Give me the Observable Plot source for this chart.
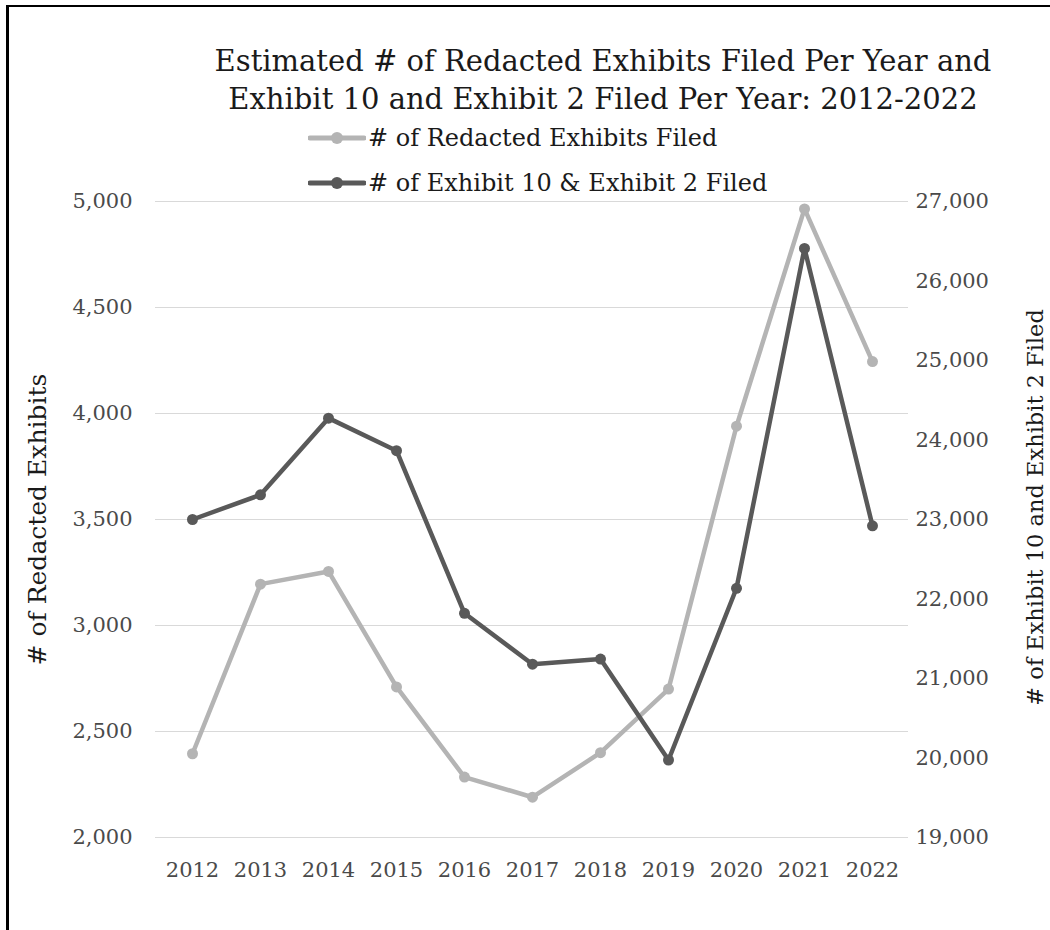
<!DOCTYPE html>
<html>
<head>
<meta charset="utf-8">
<script src="https://cdn.jsdelivr.net/npm/d3@7"></script>
<script src="https://cdn.jsdelivr.net/npm/@observablehq/plot@0.6"></script>
<style>
  body { margin: 0; background: #fff; }
  #page { position: relative; width: 1050px; height: 930px; overflow: hidden; font-family: "DejaVu Serif", serif; }
  #frame { position: absolute; left: 6px; top: 5px; width: 1200px; height: 1200px; border-left: 3px solid #000; border-top: 2px solid #000; }
  #chart { position: absolute; left: 0; top: 0; }
  #title { position: absolute; left: 155px; width: 896px; top: 42px; text-align: center; font-size: 29px; line-height: 38px; color: #1a1a1a; }
  #legend { position: absolute; left: 308px; top: 115px; font-size: 24px; color: #1a1a1a; }
  .item { display: flex; align-items: center; height: 45px; }
  .item svg { margin-right: 2px; }
</style>
</head>
<body>
<div id="page">
  <div id="frame"></div>
  <div id="chart"></div>
  <div id="title">Estimated # of Redacted Exhibits Filed Per Year and<br>Exhibit 10 and Exhibit 2 Filed Per Year: 2012-2022</div>
  <div id="legend"></div>
</div>
<script>
// Yearly counts: redacted exhibits (left axis) and Exhibit 10 & 2 filings (right axis)
const years = ["2012", "2013", "2014", "2015", "2016", "2017", "2018", "2019", "2020", "2021", "2022"];
const redacted = [2395, 3195, 3255, 2710, 2285, 2190, 2400, 2700, 3940, 4965, 4245];
const exhibits = [23000, 23310, 24275, 23865, 21820, 21180, 21245, 19975, 22135, 26410, 22920];

const leftTicks = [2000, 2500, 3000, 3500, 4000, 4500, 5000];
const rightTicks = [19000, 20000, 21000, 22000, 23000, 24000, 25000, 26000, 27000];

const seriesNames = ["# of Redacted Exhibits Filed", "# of Exhibit 10 & Exhibit 2 Filed"];
const seriesColors = ["#b4b4b4", "#595959"];

// The right axis is mapped onto the left axis's value range
const toLeft = d3.scaleLinear([19000, 27000], [2000, 5000]);

const rows = years.map((year, i) => ({ year, redacted: redacted[i], exhibits: exhibits[i] }));
const fmt = d3.format(",");

const chart = Plot.plot({
  width: 1050,
  height: 930,
  marginLeft: 155,
  marginRight: 142,
  marginTop: 201,
  marginBottom: 93,
  style: { fontFamily: "DejaVu Serif", fontSize: "21px", color: "#4a4a4a", background: "transparent" },
  x: { type: "point", domain: years, padding: 0.5, label: null },
  y: { domain: [2000, 5000], label: null },
  marks: [
    Plot.gridY(leftTicks, { stroke: "#d9d9d9", strokeOpacity: 1 }),
    Plot.axisY(leftTicks, { anchor: "left", tickSize: 0, tickPadding: 23, tickFormat: fmt, label: null }),
    Plot.axisY(rightTicks, { anchor: "right", y: toLeft, tickSize: 0, tickPadding: 7, tickFormat: fmt, label: null }),
    Plot.axisX({ tickSize: 0, tickPadding: 25, label: null }),
    Plot.line(rows, { x: "year", y: "redacted", stroke: seriesColors[0], strokeWidth: 4.5 }),
    Plot.dot(rows, { x: "year", y: "redacted", r: 5.5, fill: seriesColors[0] }),
    Plot.line(rows, { x: "year", y: d => toLeft(d.exhibits), stroke: seriesColors[1], strokeWidth: 4.5 }),
    Plot.dot(rows, { x: "year", y: d => toLeft(d.exhibits), r: 5.5, fill: seriesColors[1] }),
    Plot.text(["# of Redacted Exhibits"], { frameAnchor: "left", textAnchor: "middle", dx: -118, rotate: -90, fontSize: 25, fill: "#1a1a1a" }),
    Plot.text(["# of Exhibit 10 and Exhibit 2 Filed"], { frameAnchor: "right", textAnchor: "middle", dx: 127, dy: -12, rotate: -90, fontSize: 22.5, fill: "#1a1a1a" })
  ]
});
document.getElementById("chart").append(chart);

// Legend rows: line with a marker, then the series name
const legend = document.getElementById("legend");
seriesNames.forEach((name, i) => {
  const item = document.createElement("div");
  item.className = "item";
  item.innerHTML = `<svg width="58" height="14"><line x1="2" y1="7" x2="56" y2="7" stroke="${seriesColors[i]}" stroke-width="5" stroke-linecap="round"/><circle cx="29" cy="7" r="6" fill="${seriesColors[i]}"/></svg><span>${name}</span>`;
  legend.append(item);
});
</script>
</body>
</html>
